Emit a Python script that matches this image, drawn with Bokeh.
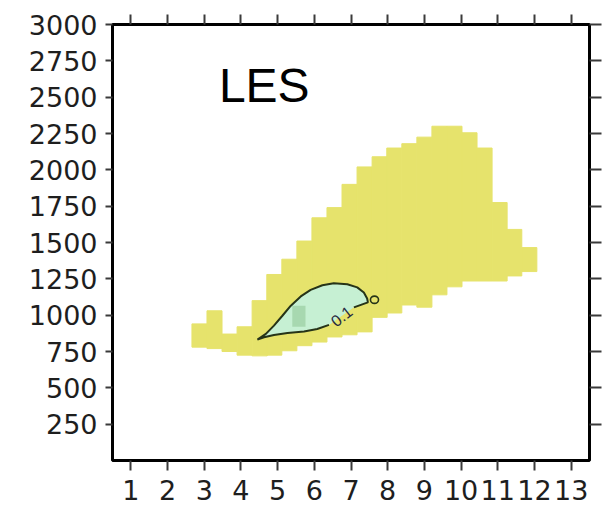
from bokeh.plotting import figure
from bokeh.models import LinearAxis, FixedTicker, ColumnDataSource
from bokeh.core.properties import value
from bokeh.embed import file_html
from bokeh.resources import INLINE

# ---- data ----
x_ticks = [1, 2, 3, 4, 5, 6, 7, 8, 9, 10, 11, 12, 13]
y_ticks = [250, 500, 750, 1000, 1250, 1500, 1750, 2000, 2250, 2500, 2750, 3000]

# yellow region: one column per time step (bottom / top height in m)
hour = [2.87, 3.28, 3.69, 4.10, 4.51, 4.91, 5.32, 5.73, 6.14, 6.55, 6.96, 7.37,
        7.78, 8.18, 8.59, 9.00, 9.41, 9.82, 10.23, 10.64, 11.05, 11.45, 11.86]
layer_bottom = [780, 770, 750, 725, 720, 725, 755, 790, 815, 850, 865, 885,
                985, 1015, 1070, 1055, 1140, 1195, 1235, 1235, 1235, 1270, 1300]
layer_top = [940, 1030, 870, 920, 1100, 1280, 1385, 1510, 1670, 1740, 1900, 2020,
             2090, 2150, 2180, 2225, 2300, 2300, 2255, 2150, 1775, 1590, 1465]

# 0.1 contour (closed loop)
contour_x = [4.45, 4.68, 4.90, 5.13, 5.36, 5.63, 5.90, 6.22, 6.53, 6.90, 7.17,
             7.35, 7.44, 7.46, 7.08, 6.40, 6.08, 5.72, 5.27, 4.90, 4.63]
contour_y = [832, 871, 928, 996, 1065, 1129, 1174, 1206, 1220, 1213, 1191,
             1156, 1115, 1088, 1054, 933, 905, 887, 878, 864, 848]

# darker core cell
core_x = [5.58]
core_bottom = [920]
core_top = [1065]

# small closed contour
loop_x = [7.64]
loop_y = [1106]

# labels
contour_label_x = [6.74]
contour_label_y = [993]
contour_label = ["0.1"]
panel_label_x = [3.40]
panel_label_y = [2580]
panel_label = ["LES"]

# ---- styles ----
YELLOW = "#e6e36c"
PALE_GREEN = "#c6f0d3"
CORE_GREEN = "#a7d8b0"
LINE_COL = "#263418"
FONT = "Liberation Sans"
TICK_FONT = "DejaVu Sans"

p = figure(width=615, height=514, x_range=(0.5, 13.5), y_range=(0, 3000),
           output_backend="svg", toolbar_location=None,
           min_border_left=112, min_border_right=26, min_border_top=24,
           min_border_bottom=54)
p.xgrid.visible = False
p.ygrid.visible = False
p.background_fill_color = "white"
p.border_fill_color = "white"
p.outline_line_color = "black"
p.outline_line_width = 3

layer = ColumnDataSource(dict(x=hour, bottom=layer_bottom, top=layer_top))
p.vbar(x="x", width=0.41, bottom="bottom", top="top", source=layer,
       fill_color=YELLOW, line_color=YELLOW, line_width=1)

p.patch(contour_x, contour_y, fill_color=PALE_GREEN, line_color=None)
p.vbar(x=core_x, width=0.36, bottom=core_bottom, top=core_top,
       fill_color=CORE_GREEN, line_color=None)

line_x = contour_x[15:] + contour_x[:15]
line_y = contour_y[15:] + contour_y[:15]
p.line(line_x, line_y, line_color=LINE_COL, line_width=2)
p.ellipse(x=loop_x, y=loop_y, width=0.22, height=50, fill_color=None,
          line_color=LINE_COL, line_width=1.6)

p.text(x=contour_label_x, y=contour_label_y, text=contour_label, angle=0.65,
       text_align="center", text_baseline="middle", text_font=value(FONT),
       text_font_size="16px", text_color="#262a40")
p.text(x=panel_label_x, y=panel_label_y, text=panel_label,
       text_align="left", text_baseline="alphabetic", text_font=value(FONT),
       text_font_size="48px", text_color="black")


def style_axis(ax, ticks, out, show_labels, standoff):
    ax.ticker = FixedTicker(ticks=ticks)
    ax.axis_line_color = None
    ax.major_tick_out = out
    ax.major_tick_in = 0
    ax.minor_tick_out = 0
    ax.minor_tick_in = 0
    ax.major_tick_line_color = "#3a3a3a"
    ax.major_tick_line_width = 2
    ax.major_label_standoff = standoff
    ax.major_label_text_font = TICK_FONT
    ax.major_label_text_color = "#1e1e1e"
    ax.major_label_text_font_size = "27px"
    if not show_labels:
        ax.major_label_overrides = {t: "" for t in ticks}


style_axis(p.xaxis[0], x_ticks, 10, True, 9)
style_axis(p.yaxis[0], y_ticks, 7, True, 8)

top_axis = LinearAxis()
style_axis(top_axis, x_ticks, 10, False, 0)
p.add_layout(top_axis, "above")

right_axis = LinearAxis()
style_axis(right_axis, y_ticks, 12, False, 0)
p.add_layout(right_axis, "right")

open("out.html", "w").write(file_html(p, INLINE))
